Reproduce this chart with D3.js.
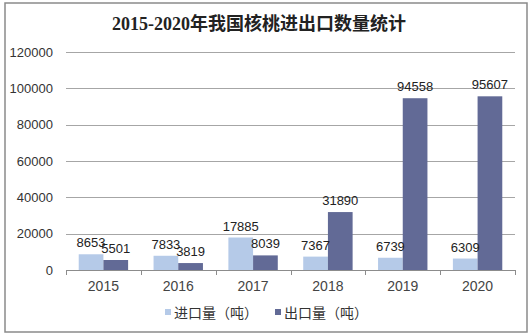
<!DOCTYPE html>
<html>
<head>
<meta charset="utf-8">
<script src="https://cdn.jsdelivr.net/npm/d3@7"></script>
<style>
  html, body { margin: 0; padding: 0; background: #fff; }
  svg { display: block; }
</style>
</head>
<body>
<script>
// Walnut import / export volumes, 2015-2020 (tonnes)
const years = ["2015", "2016", "2017", "2018", "2019", "2020"];
const importVol = [8653, 7833, 17885, 7367, 6739, 6309];
const exportVol = [5501, 3819, 8039, 31890, 94558, 95607];
const seriesNames = ["进口量（吨）", "出口量（吨）"];
const yTicks = [0, 20000, 40000, 60000, 80000, 100000, 120000];
const titleText = "2015-2020年我国核桃进出口数量统计";

const W = 532, H = 336;
const colors = ["#b5cae8", "#626a96"];

const svg = d3.select("body").append("svg")
  .attr("width", W).attr("height", H);

// outer frame
svg.append("rect")
  .attr("x", 5).attr("y", 3).attr("width", 522).attr("height", 329)
  .attr("fill", "#fff").attr("stroke", "#8a8a8a").attr("stroke-width", 1.5);

// title
svg.append("text")
  .attr("x", 259).attr("y", 30)
  .attr("text-anchor", "middle")
  .attr("font-family", "'Liberation Serif', 'Noto Sans CJK SC', serif")
  .attr("font-weight", "bold")
  .attr("font-size", 18)
  .attr("fill", "#222")
  .text(titleText);

const plot = { left: 66, right: 515, top: 52, bottom: 270 };

const y = d3.scaleLinear().domain([0, 120000]).range([plot.bottom, plot.top]);
const x0 = d3.scaleBand().domain(years).range([plot.left, plot.right]).padding(0);
const x1 = d3.scaleBand().domain([0, 1])
  .range([x0.bandwidth() * 0.17, x0.bandwidth() * 0.83]).padding(0);

// horizontal gridlines
svg.append("g")
  .selectAll("line")
  .data(yTicks.filter(t => t > 0))
  .join("line")
  .attr("x1", plot.left).attr("x2", plot.right)
  .attr("y1", d => Math.round(y(d)) + 0.5).attr("y2", d => Math.round(y(d)) + 0.5)
  .attr("stroke", "#a6a6a6").attr("stroke-width", 1);

// y axis labels
const yAxis = d3.axisLeft(y).tickValues(yTicks).tickSize(0).tickPadding(13)
  .tickFormat(d3.format("d"));
const gy = svg.append("g").attr("transform", `translate(${plot.left},0)`).call(yAxis);
gy.select(".domain").remove();
gy.selectAll("text")
  .attr("font-family", "'Liberation Sans', Arial, sans-serif")
  .attr("font-size", 13)
  .attr("fill", "#333");

// bars
const rows = years.map((yr, i) => ({ year: yr, vals: [importVol[i], exportVol[i]] }));
const groups = svg.append("g").selectAll("g")
  .data(rows)
  .join("g")
  .attr("transform", d => `translate(${x0(d.year)},0)`);

groups.selectAll("rect")
  .data(d => d.vals.map((v, k) => ({ k, v })))
  .join("rect")
  .attr("x", d => x1(d.k))
  .attr("width", x1.bandwidth())
  .attr("y", d => y(d.v))
  .attr("height", d => y(0) - y(d.v))
  .attr("fill", d => colors[d.k]);

// value labels
groups.selectAll("text.val")
  .data(d => d.vals.map((v, k) => ({ k, v })))
  .join("text")
  .attr("class", "val")
  .attr("x", d => x1(d.k) + x1.bandwidth() / 2)
  .attr("y", d => y(d.v) - 7)
  .attr("text-anchor", "middle")
  .attr("font-family", "'Liberation Sans', Arial, sans-serif")
  .attr("font-size", 13)
  .attr("fill", "#222")
  .text(d => d.v);

// x axis
const xAxis = d3.axisBottom(x0).tickSize(0).tickPadding(11);
const gx = svg.append("g").attr("transform", `translate(0,${plot.bottom})`).call(xAxis);
gx.select(".domain").attr("stroke", "#8c8c8c").attr("d", `M${plot.left},0.5H${plot.right}`);
gx.selectAll("text")
  .attr("font-family", "'Liberation Sans', Arial, sans-serif")
  .attr("font-size", 14)
  .attr("fill", "#444");
// category boundary ticks
svg.append("g").selectAll("line")
  .data(years.map(yr => x0(yr)).concat([plot.right]))
  .join("line")
  .attr("x1", d => Math.round(d) + 0.5).attr("x2", d => Math.round(d) + 0.5)
  .attr("y1", plot.bottom).attr("y2", plot.bottom + 5)
  .attr("stroke", "#8c8c8c");

// legend
const legendX = [165, 275];
const legend = svg.append("g").selectAll("g")
  .data(seriesNames)
  .join("g")
  .attr("transform", (d, i) => `translate(${legendX[i]},313)`);
legend.append("rect")
  .attr("x", 0).attr("y", -4).attr("width", 6).attr("height", 6)
  .attr("fill", (d, i) => colors[i]);
legend.append("text")
  .attr("x", 9).attr("y", 5)
  .attr("font-family", "'Noto Sans CJK SC', sans-serif")
  .attr("font-size", 14)
  .attr("fill", "#333")
  .text(d => d);
</script>
</body>
</html>
